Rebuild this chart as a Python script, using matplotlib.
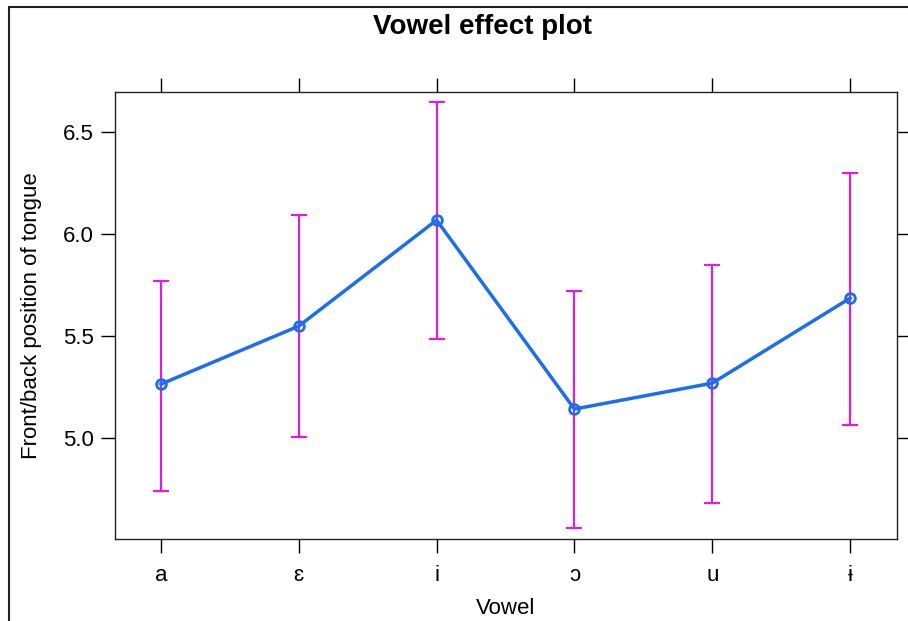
import numpy as np
import matplotlib
matplotlib.use("Agg")
from matplotlib import pyplot as plt
from matplotlib.patches import Rectangle

plt.rcParams['font.family'] = ['Liberation Sans', 'DejaVu Sans']

vowels = ['a', 'ɛ', 'i', 'ɔ', 'u', 'ɨ']
fit = [5.264, 5.548, 6.067, 5.142, 5.269, 5.685]
upper = [5.768, 6.091, 6.644, 5.719, 5.846, 6.296]
lower = [4.741, 5.005, 5.484, 4.560, 4.682, 5.064]
yticks = [5.0, 5.5, 6.0, 6.5]

fig = plt.figure(figsize=(9.08, 6.21), dpi=100)
ax = fig.add_axes([115/908, 1 - 539/621, (897-115)/908, (539-92)/621])

x = np.arange(1, len(vowels) + 1)
fit = np.array(fit)
err = [fit - np.array(lower), np.array(upper) - fit]

ax.errorbar(x, fit, yerr=err, fmt='none', ecolor='#ff00ff', elinewidth=1.4,
            capsize=6, capthick=1.4, zorder=2)
ax.plot(x, fit, color='#1a6ef5', linewidth=2.5, marker='o', markersize=7,
        markerfacecolor='none', markeredgewidth=2, markeredgecolor='#1a6ef5', zorder=3)

ax.set_xlim(0.667, 6.34)
ax.set_ylim(4.506, 6.694)
ax.set_xticks(x)
ax.set_xticklabels(vowels)
ax.set_yticks(yticks)
ax.set_yticklabels(['5.0', '5.5', '6.0', '6.5'])
ax.tick_params(axis='both', which='both', direction='out', length=10, width=1,
               labelsize=16, top=True, right=True, labeltop=False, labelright=False,
               pad=5)
ax.tick_params(axis='x', pad=9)
for s in ax.spines.values():
    s.set_linewidth(1)
    s.set_color('#222222')

ax.set_xlabel('Vowel', fontsize=16)
ax.xaxis.set_label_coords(0.5, (539 - 598) / 447)
ax.set_ylabel('Front/back position of tongue', fontsize=16)
ax.yaxis.set_label_coords((42 - 115) / 782, 0.5)
fig.text(0.531, 1 - 27/621, 'Vowel effect plot', fontsize=20, fontweight='bold',
         ha='center', va='center')

# frame of the screenshot
fig.patches.append(Rectangle((9/908, -0.1), 1.2, 1 - 7/621 + 0.1,
                             transform=fig.transFigure, fill=False,
                             edgecolor='#222222', linewidth=1.5))

fig.savefig('out.png', dpi=100)
